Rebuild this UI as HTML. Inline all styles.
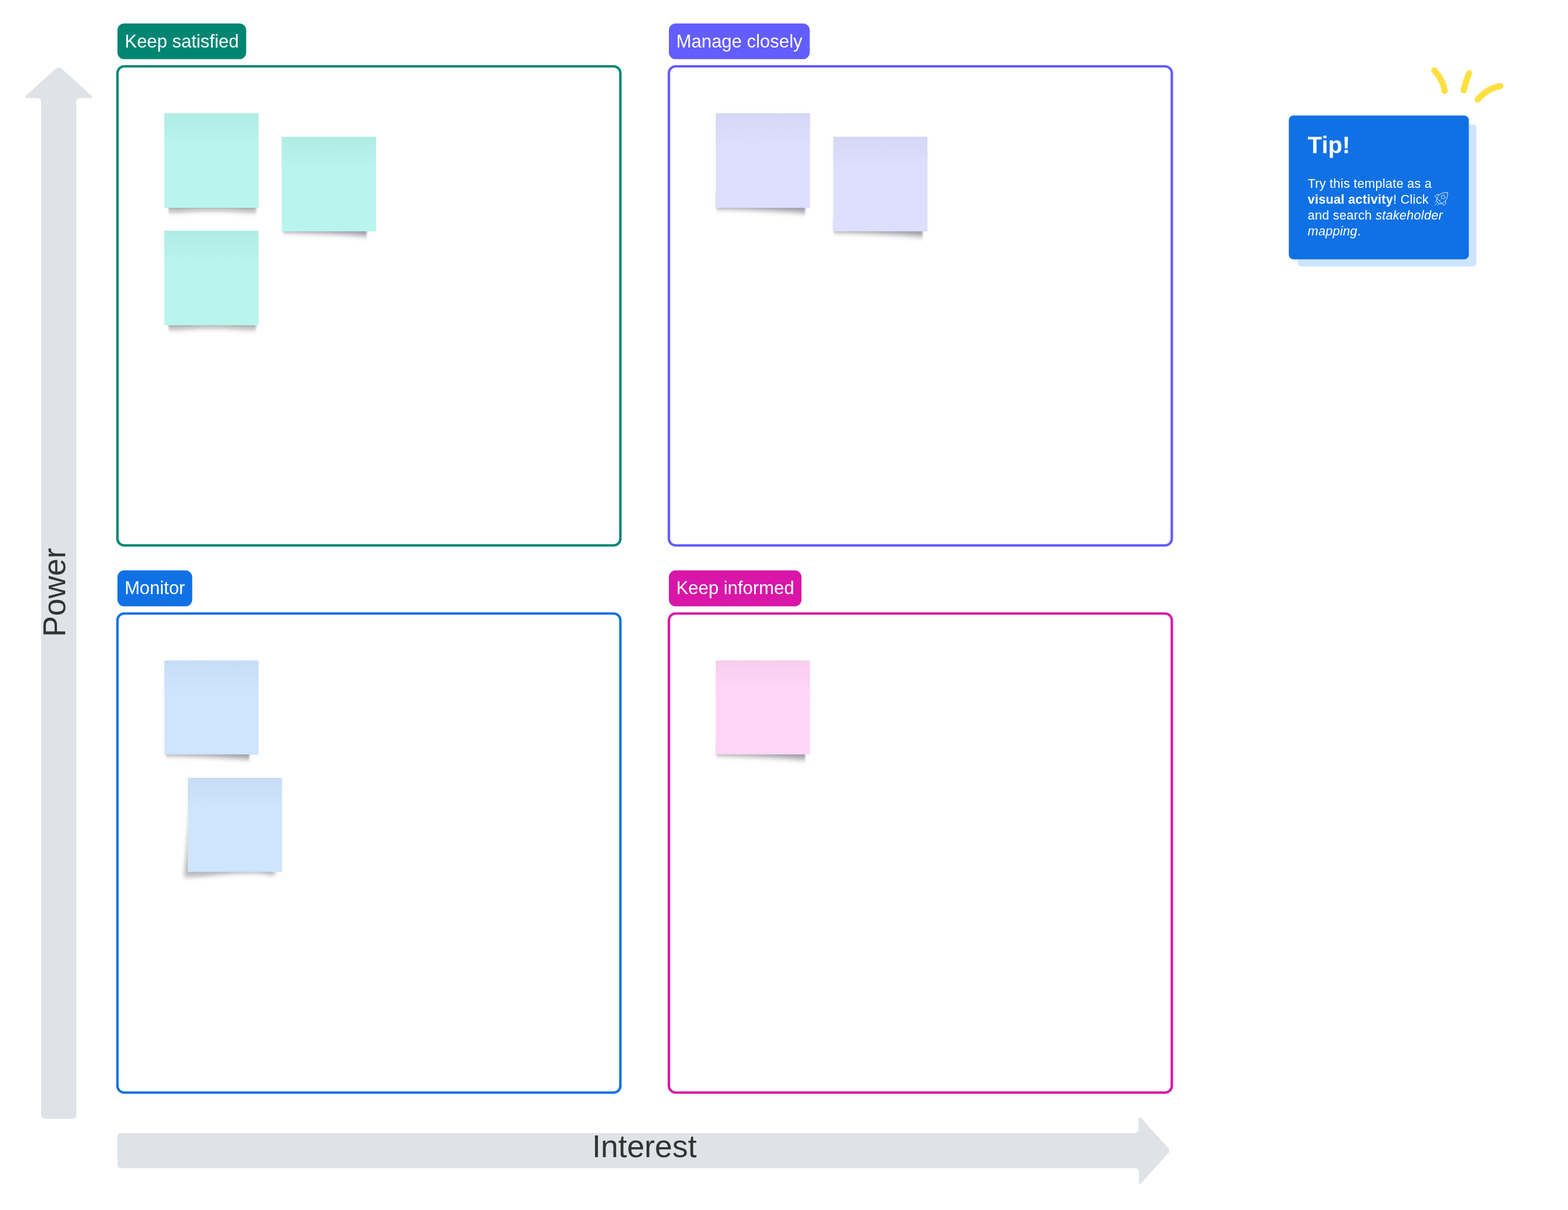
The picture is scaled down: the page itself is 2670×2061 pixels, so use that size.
<!DOCTYPE html>
<html lang="en">
<head>
<meta charset="utf-8">
<title>Stakeholder mapping</title>
<style>
html,body{margin:0;padding:0;background:#fff;}
body{width:2670px;height:2061px;position:relative;}
#canvas{position:absolute;left:0;top:0;width:2670px;height:2061px;display:block;}
.t{will-change:transform;}
#canvas text{font-family:"Liberation Sans",Arial,Helvetica,sans-serif;white-space:pre;}
</style>
</head>
<body>
<svg id="canvas" role="img" aria-label="Stakeholder mapping: power versus interest grid" width="2670" height="2061" viewBox="0 0 2670 2061">
<defs>
<filter id="bb" filterUnits="userSpaceOnUse" x="-60" y="-120" width="300" height="200"><feGaussianBlur stdDeviation="4.5"/></filter>
<filter id="bc" filterUnits="userSpaceOnUse" x="-60" y="-170" width="300" height="250"><feGaussianBlur stdDeviation="3.8"/></filter>
<filter id="bs" filterUnits="userSpaceOnUse" x="-60" y="-120" width="300" height="200"><feGaussianBlur stdDeviation="1.5"/></filter>
<filter id="b4" filterUnits="userSpaceOnUse" x="-60" y="-220" width="300" height="300"><feGaussianBlur stdDeviation="3"/></filter>
<clipPath id="cA"><rect x="7.1" y="-40" width="149.2" height="80"/></clipPath>
<clipPath id="cB"><rect x="2.4" y="-40" width="142.2" height="80"/></clipPath>
<clipPath id="cB2"><rect x="0.9" y="-40" width="151.2" height="80"/></clipPath>
<clipPath id="cC"><rect x="-30" y="-70" width="181" height="110"/></clipPath>
<linearGradient id="gb8f5ed" x1="0" y1="0" x2="0" y2="1"><stop offset="0" stop-color="#afece3"/><stop offset="1" stop-color="#b8f5ed"/></linearGradient>
<linearGradient id="gdedeff" x1="0" y1="0" x2="0" y2="1"><stop offset="0" stop-color="#d6d6f5"/><stop offset="1" stop-color="#dedeff"/></linearGradient>
<linearGradient id="gcfe4ff" x1="0" y1="0" x2="0" y2="1"><stop offset="0" stop-color="#c7dcf7"/><stop offset="1" stop-color="#cfe4ff"/></linearGradient>
<linearGradient id="gffd6f5" x1="0" y1="0" x2="0" y2="1"><stop offset="0" stop-color="#f7ceed"/><stop offset="1" stop-color="#ffd6f5"/></linearGradient>
</defs>
<path d="M94.82 117.11 Q100.00 112.40 105.18 117.11 L154.82 162.29 Q160.00 167.00 153.00 167.00 L137.00 167.00 Q130.00 167.00 130.00 174.00 L130.00 1900.20 Q130.00 1905.40 124.80 1905.40 L75.20 1905.40 Q70.00 1905.40 70.00 1900.20 L70.00 174.00 Q70.00 167.00 63.00 167.00 L47.00 167.00 Q40.00 167.00 45.18 162.29 Z" fill="#dfe3e8"/>
<path d="M1988.70 1954.71 Q1993.40 1959.90 1988.70 1965.09 L1943.70 2014.71 Q1939.00 2019.90 1939.00 2012.90 L1939.00 1996.80 Q1939.00 1989.80 1932.00 1989.80 L205.20 1989.80 Q200.00 1989.80 200.00 1984.60 L200.00 1935.20 Q200.00 1930.00 205.20 1930.00 L1932.00 1930.00 Q1939.00 1930.00 1939.00 1923.00 L1939.00 1906.90 Q1939.00 1899.90 1943.70 1905.09 Z" fill="#dfe3e8"/>
<rect x="200" y="113" width="856.4" height="816.0" rx="11.5" ry="11.5" fill="none" stroke="#008573" stroke-width="4.2"/>
<rect x="1139.0" y="113" width="856.4" height="816.0" rx="11.5" ry="11.5" fill="none" stroke="#635dff" stroke-width="4.2"/>
<rect x="200" y="1045.0" width="856.4" height="816.0" rx="11.5" ry="11.5" fill="none" stroke="#1071e5" stroke-width="4.2"/>
<rect x="1139.0" y="1045.0" width="856.4" height="816.0" rx="11.5" ry="11.5" fill="none" stroke="#d916a8" stroke-width="4.2"/>
<g transform="translate(279.9,354.0)"><rect x="1" y="-159.0" width="158.2" height="159.0" fill="#000" fill-opacity="0.05" filter="url(#b4)"/><g filter="url(#bs)"><g clip-path="url(#cA)"><path d="M-12 -20 L172 -20 L172 6.8 L140 6.8 Q118 6.2 104 4.6 L58 4.6 Q44 6.2 24 6.8 L-12 6.8 Z" fill="#101012" fill-opacity="0.355" filter="url(#bb)"/></g></g><rect x="0" y="-161.0" width="160.2" height="161.0" fill="#b8f5ed"/><rect x="0" y="-161.0" width="160.2" height="54" fill="url(#gb8f5ed)"/></g>
<g transform="translate(479.9,394.0)"><rect x="1" y="-159.0" width="158.2" height="159.0" fill="#000" fill-opacity="0.05" filter="url(#b4)"/><g filter="url(#bs)"><g clip-path="url(#cB)"><path d="M-12 -20 L160 -20 L160 9.6 Q95 3.2 -12 0.9 Z" fill="#101012" fill-opacity="0.37" filter="url(#bb)"/></g></g><rect x="0" y="-161.0" width="160.2" height="161.0" fill="#b8f5ed"/><rect x="0" y="-161.0" width="160.2" height="54" fill="url(#gb8f5ed)"/></g>
<g transform="translate(279.9,554.0)"><rect x="1" y="-159.0" width="158.2" height="159.0" fill="#000" fill-opacity="0.05" filter="url(#b4)"/><g filter="url(#bs)"><g clip-path="url(#cA)"><path d="M-12 -20 L172 -20 L172 6.8 L140 6.8 Q118 6.2 104 4.6 L58 4.6 Q44 6.2 24 6.8 L-12 6.8 Z" fill="#101012" fill-opacity="0.355" filter="url(#bb)"/></g></g><rect x="0" y="-161.0" width="160.2" height="161.0" fill="#b8f5ed"/><rect x="0" y="-161.0" width="160.2" height="54" fill="url(#gb8f5ed)"/></g>
<g transform="translate(1218.9,354.0)"><rect x="1" y="-159.0" width="158.2" height="159.0" fill="#000" fill-opacity="0.05" filter="url(#b4)"/><g filter="url(#bs)"><g clip-path="url(#cB2)"><path d="M-12 -20 L170 -20 L170 11 Q100 3.4 -12 0.9 Z" fill="#101012" fill-opacity="0.37" filter="url(#bb)"/></g></g><rect x="0" y="-161.0" width="160.2" height="161.0" fill="#dedeff"/><rect x="0" y="-161.0" width="160.2" height="54" fill="url(#gdedeff)"/></g>
<g transform="translate(1418.9,394.0)"><rect x="1" y="-159.0" width="158.2" height="159.0" fill="#000" fill-opacity="0.05" filter="url(#b4)"/><g filter="url(#bs)"><g clip-path="url(#cB2)"><path d="M-12 -20 L170 -20 L170 11 Q100 3.4 -12 0.9 Z" fill="#101012" fill-opacity="0.37" filter="url(#bb)"/></g></g><rect x="0" y="-161.0" width="160.2" height="161.0" fill="#dedeff"/><rect x="0" y="-161.0" width="160.2" height="54" fill="url(#gdedeff)"/></g>
<g transform="translate(279.9,1285.0)"><rect x="1" y="-158.0" width="158.2" height="158.0" fill="#000" fill-opacity="0.05" filter="url(#b4)"/><g filter="url(#bs)"><g clip-path="url(#cB)"><path d="M-12 -20 L160 -20 L160 9.6 Q95 3.2 -12 0.9 Z" fill="#101012" fill-opacity="0.37" filter="url(#bb)"/></g></g><rect x="0" y="-160.0" width="160.2" height="160.0" fill="#cfe4ff"/><rect x="0" y="-160.0" width="160.2" height="54" fill="url(#gcfe4ff)"/></g>
<g transform="translate(319.9,1485.0)"><rect x="1" y="-158.0" width="158.2" height="158.0" fill="#000" fill-opacity="0.05" filter="url(#b4)"/><path d="M5 -112 L3 -106 L-1.6 -46 L-5.6 -6 L-6.4 9.5 Q20 9.5 45 6.5 Q80 2.6 110 2.6 Q128 3 138 6 L148.5 6 L148.5 -20 L4 -20 Z" fill="#101012" fill-opacity="0.255" filter="url(#bc)"/><rect x="0" y="-160.0" width="160.2" height="160.0" fill="#cfe4ff"/><rect x="0" y="-160.0" width="160.2" height="54" fill="url(#gcfe4ff)"/></g>
<g transform="translate(1218.9,1285.0)"><rect x="1" y="-158.0" width="158.2" height="158.0" fill="#000" fill-opacity="0.05" filter="url(#b4)"/><g filter="url(#bs)"><g clip-path="url(#cB2)"><path d="M-12 -20 L170 -20 L170 11 Q100 3.4 -12 0.9 Z" fill="#101012" fill-opacity="0.37" filter="url(#bb)"/></g></g><rect x="0" y="-160.0" width="160.2" height="160.0" fill="#ffd6f5"/><rect x="0" y="-160.0" width="160.2" height="54" fill="url(#gffd6f5)"/></g>
<rect x="2209.9" y="211.8" width="304.2" height="242.3" rx="6" fill="#cfe4ff"/>
<rect x="2194.6" y="196.7" width="306.5" height="245.1" rx="8" fill="#1071e5"/>
<g fill="none" stroke="#ffdf40" stroke-width="10.5" stroke-linecap="round"><path d="M2442.3 120.1 Q2457.6 137.3 2460.1 154.9"/><path d="M2501.5 124.9 Q2495.4 139.85 2492.5 153.8"/><path d="M2516.2 169.6 Q2533.1 150.35 2554.8 146.5"/></g>
<g fill="none" stroke="#fff" stroke-opacity="0.97" stroke-width="0.95" stroke-linecap="round" stroke-linejoin="round"><path d="M2464.75 328.22 C2460.70 327.58 2455.36 328.54 2450.44 331.64 L2446.81 337.90 L2455.36 346.70 C2460.70 343.92 2466.67 337.08 2464.75 328.22 Z"/><path d="M2450.44 331.64 L2447.24 331.28 L2443.08 334.74 L2446.64 337.83"/><path d="M2461.55 342.64 L2461.68 346.95 L2458.35 349.79 L2455.36 346.70"/><circle cx="2457.49" cy="335.48" r="3.20"/><path d="M2446.64 338.58 L2446.09 342.21 L2450.44 347.02 L2455.36 346.70"/><path d="M2450.87 342.10 L2452.62 340.29"/><path d="M2445.64 342.53 L2443.18 344.88 M2447.67 345.52 L2443.29 349.79 M2450.34 347.23 L2447.99 349.79" stroke-dasharray="1.6 1.4"/></g>
<rect x="200" y="39.95" width="219.2" height="60.9" rx="11.5" fill="#008573"/><g class="t"><text x="309.60" y="80.90" font-size="30.9" fill="#fff" text-anchor="middle">Keep satisfied</text></g>
<rect x="1139" y="39.95" width="239.8" height="60.9" rx="11.5" fill="#635dff"/><g class="t"><text x="1258.90" y="80.90" font-size="30.9" fill="#fff" text-anchor="middle">Manage closely</text></g>
<rect x="200" y="971.55" width="127.3" height="61.3" rx="11.5" fill="#1071e5"/><g class="t"><text x="263.65" y="1012.20" font-size="30.9" fill="#fff" text-anchor="middle">Monitor</text></g>
<rect x="1139" y="971.55" width="225.8" height="61.3" rx="11.5" fill="#d916a8"/><g class="t"><text x="1251.90" y="1012.20" font-size="30.9" fill="#fff" text-anchor="middle">Keep informed</text></g>
<text transform="translate(111 1009.2) rotate(-90)" font-size="53.4" fill="#333" text-anchor="middle">Power</text>
<g class="t"><text x="1097.3" y="1970.6" font-size="53.4" fill="#333" text-anchor="middle">Interest</text></g>
<g class="t"><text x="2226.85" y="260.6" font-size="39.75" font-weight="bold" fill="#fff">Tip!</text></g>
<g class="t" font-size="21.6" fill="#fff" letter-spacing="0.26"><text x="2226.7" y="320.45">Try this template as a</text><text x="2226.7" y="347.15"><tspan font-weight="bold">visual activity</tspan>! Click</text><text x="2226.7" y="373.85">and search <tspan font-style="italic">stakeholder</tspan></text><text x="2226.7" y="400.55"><tspan font-style="italic">mapping</tspan>.</text></g>
</svg>
</body>
</html>
